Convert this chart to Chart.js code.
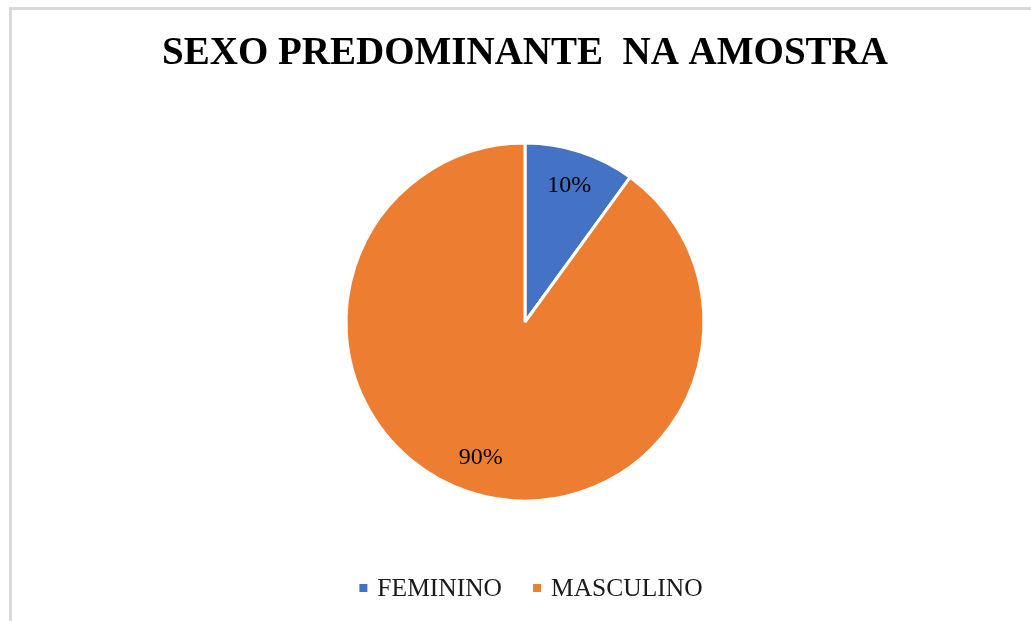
<!DOCTYPE html>
<html><head><meta charset="utf-8">
<script src="https://cdn.jsdelivr.net/npm/chart.js@4/dist/chart.umd.min.js"></script>
<style>
html,body{margin:0;padding:0;background:#fff;}
#wrap{position:absolute;left:0;top:0;width:1031px;height:621px;overflow:hidden;background:#fff;}
#frame{position:absolute;left:9px;top:7px;width:1100px;height:700px;border-left:3px solid #d9d9d9;border-top:3px solid #d9d9d9;}
canvas{position:absolute;left:0;top:0;}
</style></head><body>
<div id="wrap"><div id="frame"></div><canvas id="c" width="1031" height="621"></canvas></div>
<script>
const chartTitle = 'SEXO PREDOMINANTE  NA AMOSTRA';
const categories = ['FEMININO', 'MASCULINO'];
const values = [10, 90];
const valueLabels = ['10%', '90%'];
const colors = ['#4472C4', '#ED7D31'];

const FONT = '"Liberation Serif", "Times New Roman", serif';

const sliceLabels = {
  id: 'sliceLabels',
  afterDatasetsDraw(chart) {
    const ctx = chart.ctx;
    const meta = chart.getDatasetMeta(0);
    ctx.save();
    ctx.font = '24px ' + FONT;
    ctx.fillStyle = '#000';
    ctx.textAlign = 'center';
    ctx.textBaseline = 'middle';
    meta.data.forEach((arc, i) => {
      const p = arc.getProps(['x', 'y', 'startAngle', 'endAngle', 'outerRadius'], true);
      const mid = (p.startAngle + p.endAngle) / 2;
      const r = p.outerRadius * 0.8;
      ctx.fillText(valueLabels[i], p.x + Math.cos(mid) * r, p.y + Math.sin(mid) * r);
    });
    ctx.restore();
  }
};

const bottomLegend = {
  id: 'bottomLegend',
  afterDraw(chart) {
    const ctx = chart.ctx;
    const box = 8, textGap = 10, itemGap = 31, cx = 531, cy = 588;
    ctx.save();
    ctx.font = '25.5px ' + FONT;
    ctx.textBaseline = 'middle';
    ctx.textAlign = 'left';
    const widths = categories.map(c => ctx.measureText(c).width);
    let total = 0;
    widths.forEach((w, i) => { total += box + textGap + w + (i < widths.length - 1 ? itemGap : 0); });
    let x = cx - total / 2;
    categories.forEach((c, i) => {
      ctx.fillStyle = colors[i];
      ctx.fillRect(x, cy - box / 2, box, box);
      x += box + textGap;
      ctx.fillStyle = '#1a1a1a';
      ctx.fillText(c, x, cy + 1);
      x += widths[i] + itemGap;
    });
    ctx.restore();
  }
};

new Chart(document.getElementById('c'), {
  type: 'pie',
  data: {
    labels: categories,
    datasets: [{
      data: values,
      backgroundColor: colors,
      borderColor: '#ffffff',
      borderWidth: 3,
      hoverOffset: 0,
      radius: 179
    }]
  },
  options: {
    responsive: false,
    animation: false,
    devicePixelRatio: 1,
    layout: { padding: { left: 19, right: 0, top: 0, bottom: 117 } },
    plugins: {
      title: {
        display: true,
        text: chartTitle,
        color: '#000',
        font: { family: FONT, size: 39, weight: 'bold', lineHeight: 1.2 },
        padding: { top: 31, bottom: 62.2 }
      },
      legend: { display: false },
      tooltip: { enabled: false }
    }
  },
  plugins: [sliceLabels, bottomLegend]
});
</script>
</body></html>
